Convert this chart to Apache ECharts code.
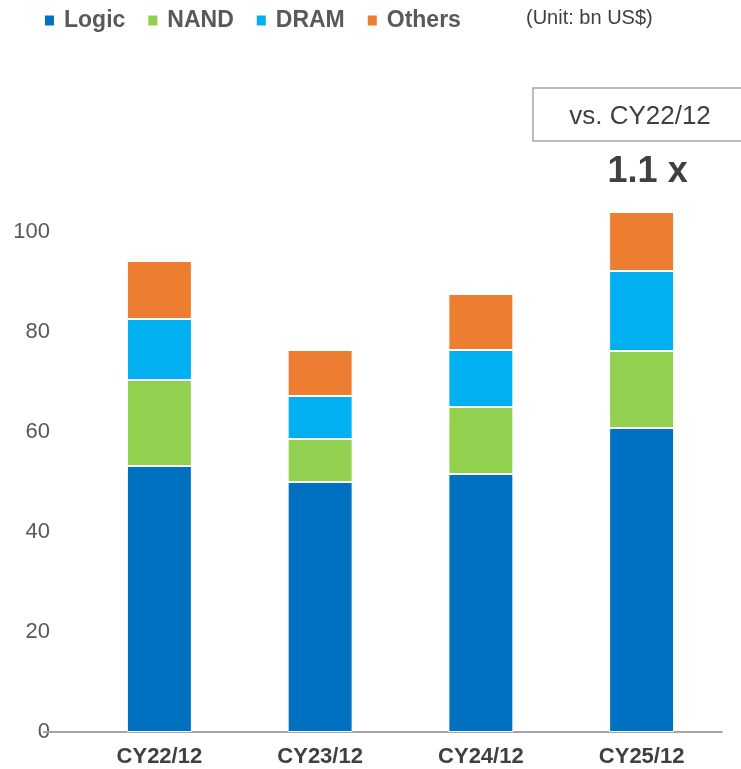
<!DOCTYPE html>
<html>
<head>
<meta charset="utf-8">
<script src="https://cdn.jsdelivr.net/npm/echarts@6/dist/echarts.min.js"></script>
<style>
  html, body { margin: 0; padding: 0; background: #fff; }
  #chart { width: 741px; height: 769px; }
</style>
</head>
<body>
<div id="chart"></div>
<script>
// Semiconductor market by device type, year-end snapshots (bn US$)
const categories = ['CY22/12', 'CY23/12', 'CY24/12', 'CY25/12'];
const logic  = [53.2, 50.0, 51.6, 60.8];
const nand   = [17.2, 8.6, 13.4, 15.4];
const dram   = [12.2, 8.6, 11.4, 16.0];
const others = [11.6, 9.2, 11.2, 11.8];
const yTicks = [0, 20, 40, 60, 80, 100];

const colors = { Logic: '#0070C0', NAND: '#92D050', DRAM: '#00B0F0', Others: '#ED7D31' };
const FONT = '"Liberation Sans", Arial, sans-serif';

const totals = categories.map((_, i) => logic[i] + nand[i] + dram[i] + others[i]);
const growth = (totals[totals.length - 1] / totals[0]).toFixed(1);

function seg(name, data, extra) {
  return Object.assign({
    name: name,
    type: 'bar',
    stack: 'total',
    data: data,
    barWidth: 65,
    itemStyle: { color: colors[name], borderColor: '#ffffff', borderWidth: 1 },
    emphasis: { disabled: true }
  }, extra || {});
}

const chart = echarts.init(document.getElementById('chart'), null, { renderer: 'canvas' });

const option = {
  animation: false,
  textStyle: { fontFamily: FONT },
  legend: {
    left: 40,
    top: 4,
    icon: 'rect',
    itemWidth: 9,
    itemHeight: 10,
    itemGap: 23,
    itemStyle: { borderWidth: 0 },
    selectedMode: false,
    textStyle: { color: '#595959', fontWeight: 'bold', fontSize: 23, fontFamily: FONT, padding: [0, 0, 0, 5] },
    data: ['Logic', 'NAND', 'DRAM', 'Others']
  },
  grid: { left: 79, right: 19, top: 132, bottom: 37 },
  xAxis: {
    type: 'category',
    data: categories,
    axisTick: { show: false },
    axisLine: { show: true, lineStyle: { color: '#A6A6A6', width: 2 } },
    axisLabel: { color: '#404040', fontWeight: 'bold', fontSize: 22, fontFamily: FONT, margin: 14 }
  },
  yAxis: {
    type: 'value',
    min: 0,
    max: 120,
    interval: 20,
    splitLine: { show: false },
    axisLine: { show: false },
    axisTick: { show: false },
    axisLabel: {
      color: '#595959',
      fontSize: 22,
      fontFamily: FONT,
      margin: 29,
      formatter: v => (yTicks.indexOf(v) >= 0 ? String(v) : '')
    }
  },
  series: [
    seg('Logic', logic),
    seg('NAND', nand),
    seg('DRAM', dram),
    seg('Others', others, {
      label: {
        show: true,
        position: 'top',
        distance: 22,
        offset: [6, 0],
        color: '#404040',
        fontWeight: 'bold',
        fontSize: 36,
        fontFamily: FONT,
        formatter: p => (p.dataIndex === categories.length - 1 ? growth + ' x' : '')
      }
    })
  ],
  graphic: [
    {
      id: 'unit',
      type: 'text',
      left: 526,
      top: 8,
      style: { text: '(Unit: bn US$)', fill: '#404040', fontSize: 20, fontWeight: 'normal', fontFamily: FONT }
    },
    {
      id: 'box',
      type: 'rect',
      shape: { x: 533, y: 88, width: 230, height: 53 },
      style: { fill: '#ffffff', stroke: '#A6A6A6', lineWidth: 1.5 }
    },
    {
      id: 'boxText',
      type: 'text',
      x: 640,
      y: 117,
      style: {
        text: 'vs. ' + categories[0],
        fill: '#404040',
        fontSize: 26,
        fontFamily: FONT,
        align: 'center',
        verticalAlign: 'middle'
      }
    }
  ]
};

chart.setOption(option);

// extend the baseline slightly left, through the "0" tick label
const y0 = chart.convertToPixel({ yAxisIndex: 0 }, 0);
chart.setOption({
  graphic: [
    {
      id: 'baseExt',
      type: 'line',
      shape: { x1: 43, y1: y0, x2: 80, y2: y0 },
      style: { stroke: '#A6A6A6', lineWidth: 2 },
      z: 10
    }
  ]
});
</script>
</body>
</html>
